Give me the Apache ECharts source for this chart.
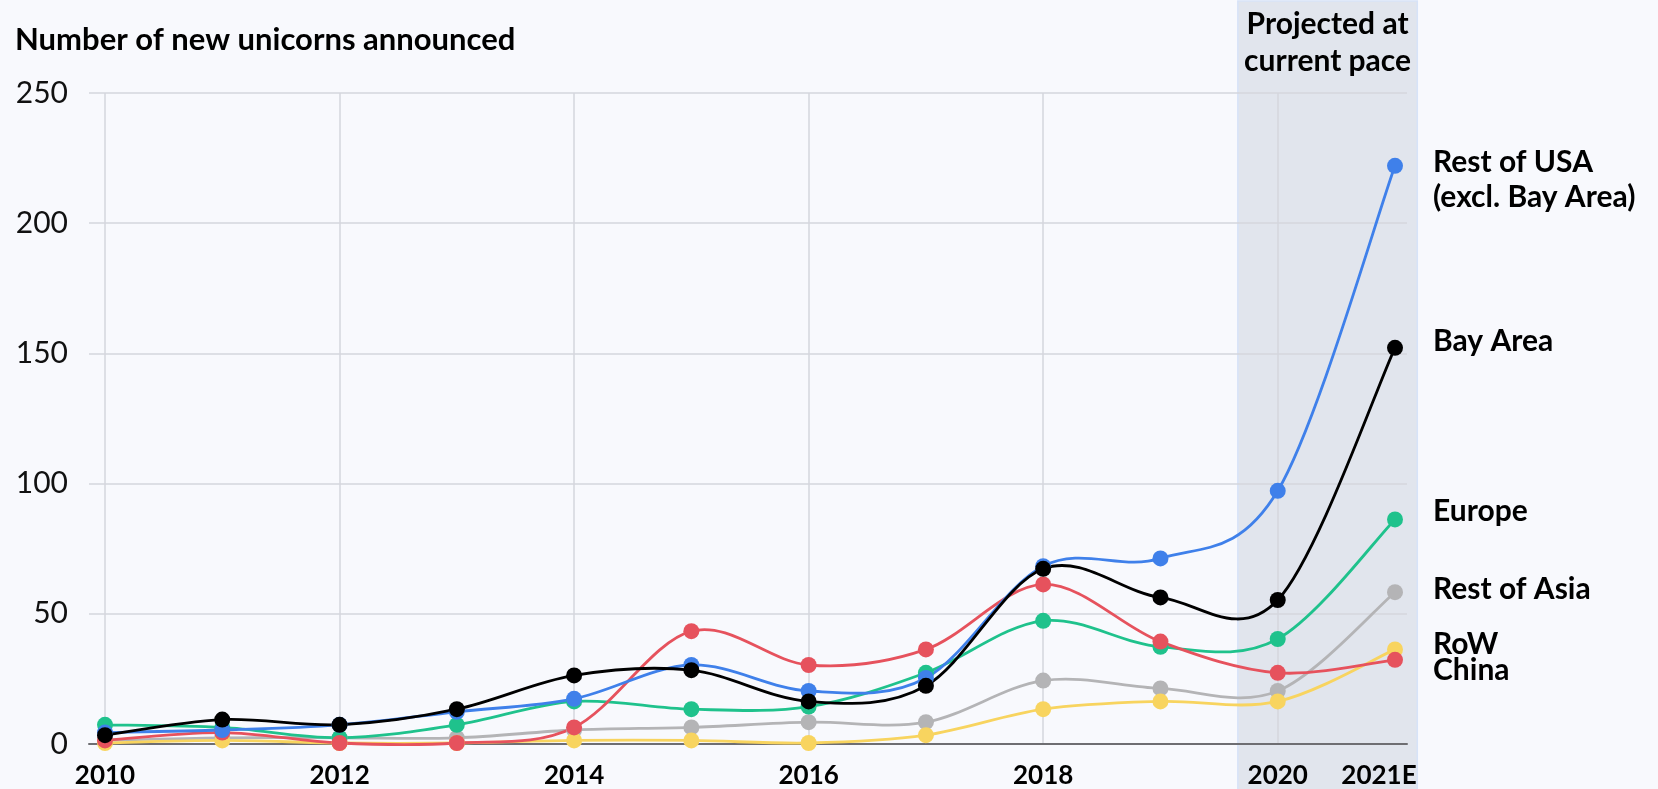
<!DOCTYPE html>
<html>
<head>
<meta charset="utf-8">
<script src="https://cdn.jsdelivr.net/npm/echarts@6/dist/echarts.min.js"></script>
<style>
  html, body { margin: 0; padding: 0; background: #f8f9fd; }
  #chart { width: 1658px; height: 789px; }
</style>
</head>
<body>
<div id="chart"></div>
<script>
// data
const years = ['2010', '2011', '2012', '2013', '2014', '2015', '2016', '2017', '2018', '2019', '2020', '2021E']
const restOfUSA = [4, 5, 7, 12, 17, 30, 20, 25, 68, 71, 97, 222]
const bayArea = [3, 9, 7, 13, 26, 28, 16, 22, 67, 56, 55, 152]
const europe = [7, 6, 2, 7, 16, 13, 14, 27, 47, 37, 40, 86]
const china = [1, 4, 0, 0, 6, 43, 30, 36, 61, 39, 27, 32]
const restOfAsia = [1, 2, 2, 2, 5, 6, 8, 8, 24, 21, 20, 58]
const row = [0, 1, 0, 0, 1, 1, 0, 3, 13, 16, 16, 36]
const yTicks = [0, 50, 100, 150, 200, 250]

const font = 'Lato'
const gridColor = '#d4d6dc'

const chart = echarts.init(document.getElementById('chart'))

// cardinal (catmull-rom) curve through the points, like the original
const makeCurve = (name, data, color) => ({
  name: name + ' curve',
  type: 'custom',
  xAxisIndex: 1,
  yAxisIndex: 1,
  silent: true,
  data: data.map((v, i) => [i, v]),
  renderItem: (params, api) => {
    if (params.dataIndex !== 0) return null
    const pts = data.map((v, i) => api.coord([i, v]))
    const n = pts.length
    let d = 'M' + pts[0][0] + ',' + pts[0][1]
    for (let i = 0; i < n - 1; i++) {
      const p0 = pts[Math.max(i - 1, 0)]
      const p1 = pts[i]
      const p2 = pts[i + 1]
      const p3 = pts[Math.min(i + 2, n - 1)]
      const c1x = p1[0] + (p2[0] - p0[0]) / 6
      const c1y = p1[1] + (p2[1] - p0[1]) / 6
      const c2x = p2[0] - (p3[0] - p1[0]) / 6
      const c2y = p2[1] - (p3[1] - p1[1]) / 6
      d += ' C' + c1x + ',' + c1y + ' ' + c2x + ',' + c2y + ' ' + p2[0] + ',' + p2[1]
    }
    return {
      type: 'path',
      shape: { pathData: d },
      style: { stroke: color, lineWidth: 2.8, fill: 'none' }
    }
  }
})

// dots + label at the end (the curve itself comes from makeCurve)
const makeDots = (name, label, data, color, dy) => ({
  name: name,
  type: 'line',
  data: data,
  xAxisIndex: 1,
  yAxisIndex: 1,
  symbol: 'circle',
  symbolSize: 16,
  showAllSymbol: true,
  lineStyle: { color: color, width: 0, opacity: 0 },
  itemStyle: { color: color },
  emphasis: { disabled: true },
  endLabel: {
    show: true,
    formatter: () => label,
    distance: 38,
    offset: [0, dy],
    color: '#000',
    fontFamily: font,
    fontWeight: 'bold',
    fontSize: 30,
    lineHeight: 35,
    align: 'left'
  }
})

const lines = [
  ['Rest of Asia', 'Rest of Asia', restOfAsia, '#b4b4b6', -3],
  ['RoW', 'RoW', row, '#f8d45f', -5],
  ['Europe', 'Europe', europe, '#1fc28c', -8],
  ['China', 'China', china, '#e6525d', 11],
  ['Rest of USA', 'Rest of USA\n(excl. Bay Area)', restOfUSA, '#3f80ea', 14],
  ['Bay Area', 'Bay Area', bayArea, '#000000', -6]
]

const series = []
lines.forEach(([name, label, data, color, dy]) => {
  series.push(makeCurve(name, data, color))
  series.push(makeDots(name, label, data, color, dy))
})

const option = {
  backgroundColor: '#f8f9fd',
  animation: false,
  title: {
    text: 'Number of new unicorns announced',
    left: 10,
    top: 19,
    textStyle: { fontFamily: font, fontWeight: 'bold', fontSize: 31, color: '#000' }
  },
  grid: [
    { left: 89, right: 251, top: 93, bottom: 45 },
    { left: 105, right: 263, top: 93, bottom: 45 }
  ],
  xAxis: [
    {
      gridIndex: 0,
      type: 'value',
      min: 0,
      max: 1,
      axisLine: { show: true, lineStyle: { color: '#6e6e72', width: 2 } },
      axisTick: { show: false },
      axisLabel: { show: false },
      splitLine: { show: false }
    },
    {
      gridIndex: 1,
      type: 'category',
      data: years,
      boundaryGap: false,
      axisLine: { show: false },
      axisTick: { show: false },
      axisLabel: {
        interval: (i) => i % 2 === 0 || i === years.length - 1,
        margin: 20,
        fontFamily: font,
        fontWeight: 'bold',
        fontSize: 26,
        color: '#000',
        formatter: (v, i) => (i === years.length - 1 ? '{e|' + v + '}' : v),
        rich: {
          e: { fontFamily: font, fontWeight: 'bold', fontSize: 26, color: '#000', padding: [0, 32, 0, 0] }
        }
      },
      splitLine: {
        show: true,
        interval: (i) => i % 2 === 0 && i < years.length - 1,
        lineStyle: { color: gridColor, width: 1.5 }
      }
    }
  ],
  yAxis: [
    {
      gridIndex: 0,
      type: 'value',
      min: yTicks[0],
      max: yTicks[yTicks.length - 1],
      interval: 50,
      axisLine: { show: false },
      axisTick: { show: false },
      axisLabel: { margin: 21, fontFamily: font, fontSize: 30, color: '#111' },
      splitLine: { lineStyle: { color: gridColor, width: 1.5 } }
    },
    {
      gridIndex: 1,
      type: 'value',
      min: yTicks[0],
      max: yTicks[yTicks.length - 1],
      interval: 50,
      show: false
    }
  ],
  series: series
}

chart.setOption(option)

// shaded "projected" band, placed from the category scale
const x20 = chart.convertToPixel({ xAxisIndex: 1 }, '2020')
const x21 = chart.convertToPixel({ xAxisIndex: 1 }, '2021E')
const step = x21 - x20
const bandLeft = x20 - 0.34 * step
const bandRight = x21 + 0.19 * step

chart.setOption({
  graphic: [
    {
      type: 'rect',
      z: -1,
      silent: true,
      shape: { x: bandLeft, y: 1, width: bandRight - bandLeft, height: 800 },
      style: { fill: '#e1e5ed', stroke: '#d7e3f8', lineWidth: 1.5 }
    },
    {
      type: 'text',
      x: (bandLeft + bandRight) / 2,
      y: 6,
      silent: true,
      style: {
        text: 'Projected at\ncurrent pace',
        fill: '#000',
        fontFamily: font,
        fontWeight: 'bold',
        fontSize: 30,
        lineHeight: 37,
        align: 'center',
        verticalAlign: 'top'
      }
    }
  ]
})
</script>
</body>
</html>
